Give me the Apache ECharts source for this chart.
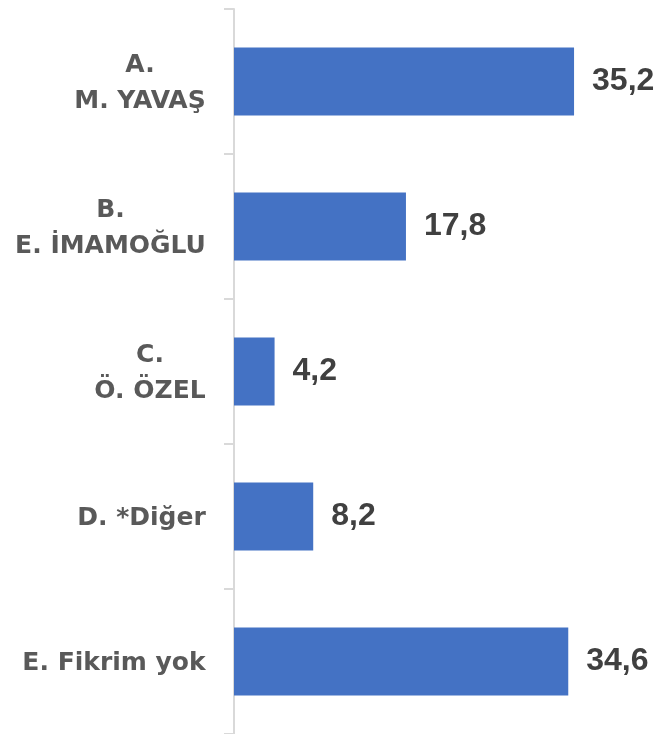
<!DOCTYPE html>
<html>
<head>
<meta charset="utf-8">
<script src="https://cdn.jsdelivr.net/npm/echarts@6/dist/echarts.min.js"></script>
<style>
  html, body { margin: 0; padding: 0; background: #fff; }
  #chart { width: 661px; height: 734px; }
</style>
</head>
<body>
<div id="chart"></div>
<script>
// kategoriler ve değerler
var categories = ['A.\nM. YAVAŞ', 'B.\nE. İMAMOĞLU', 'C.\nÖ. ÖZEL', 'D. *Diğer', 'E. Fikrim yok'];
var values = [35.2, 17.8, 4.2, 8.2, 34.6];

var labelFont = 'bold 25px "DejaVu Sans"';

// her etiket için en uzun satırın genişliği (satırları ortalamak için)
var ctx = document.createElement('canvas').getContext('2d');
ctx.font = labelFont;
var rich = {};
categories.forEach(function (c, i) {
  var w = 0;
  c.split('\n').forEach(function (s) { w = Math.max(w, ctx.measureText(s).width); });
  rich['c' + i] = {
    width: Math.ceil(w),
    align: 'center',
    fontFamily: 'DejaVu Sans',
    fontWeight: 'bold',
    fontSize: 25,
    lineHeight: 36,
    color: '#595959'
  };
});

var chart = echarts.init(document.getElementById('chart'));
var option = {
  animation: false,
  grid: { left: 234, right: 0, top: 9, bottom: 0 },
  xAxis: {
    type: 'value',
    min: 0,
    max: 44.2,
    show: false
  },
  yAxis: {
    type: 'category',
    inverse: true,
    data: categories,
    axisLine: { show: true, lineStyle: { color: '#d9d9d9', width: 2 } },
    axisTick: { show: true, length: 10, lineStyle: { color: '#d9d9d9', width: 2 } },
    axisLabel: {
      margin: 28,
      padding: [4, 0, 0, 0],
      formatter: function (v) {
        var i = categories.indexOf(v);
        return v.split('\n').map(function (s) { return '{c' + i + '|' + s + '}'; }).join('\n');
      },
      rich: rich
    }
  },
  series: [{
    type: 'bar',
    data: values,
    barWidth: 68,
    itemStyle: { color: '#4472c4' },
    label: {
      show: true,
      position: 'right',
      distance: 18,
      fontFamily: 'Liberation Sans',
      fontWeight: 'bold',
      fontSize: 32,
      color: '#404040',
      formatter: function (p) { return String(p.value).replace('.', ','); }
    }
  }]
};
chart.setOption(option);
</script>
</body>
</html>
